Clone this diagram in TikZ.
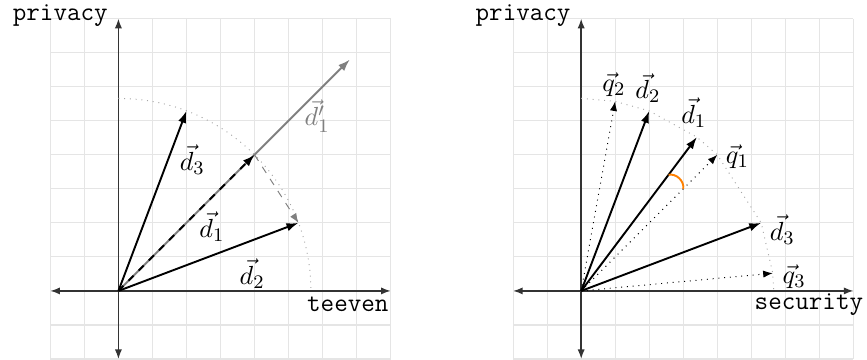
\documentclass[tikz,border=0pt]{standalone}
\usepackage{tikz}
\usetikzlibrary{arrows.meta,calc}

\begin{document}
\begin{tikzpicture}[x=0.5cm,y=0.5cm,
  font=\fontsize{11}{13}\selectfont,
  grd/.style={draw=gray!20,line width=0.5pt},
  ax/.style={{Latex[length=4pt,width=3pt]}-{Latex[length=4pt,width=3pt]},semithick,black!80},
  vec/.style={-{Latex[length=5pt,width=3.5pt]},thick},
  qvec/.style={-{Latex[length=4pt,width=3pt]},dotted},
  rim/.style={dotted,gray!70},
  axlbl/.style={inner sep=0pt,font=\ttfamily\fontsize{11}{13}\selectfont}]
\useasboundingbox (-3.48,-2.03) rectangle (22.0,8.55);
% left: documents only
\draw[grd,step=0.5cm] (-2,-2) grid (8,8);
\coordinate (o) at (0,0);
\coordinate (xl) at (-2,0); \coordinate (xr) at (8,0);
\coordinate (yb) at (0,-2); \coordinate (yt) at (0,8);
\draw[ax] (xl) -- (xr);
\draw[ax] (yb) -- (yt);
\node[axlbl,anchor=base east] (py) at (-0.3,7.95) {privacy};
\node[axlbl,anchor=base east] (tv) at (7.95,-0.6) {teeven};
\draw[rim] (0,5.657) arc (90:0:5.657);
\coordinate (d1) at (4,4);
\coordinate (d2) at (5.29,2);
\coordinate (d3) at (2,5.29);
\coordinate (d1p) at (6.8,6.8);
\draw[vec,gray] (o) -- (d1p);
\draw[vec,dashed] (o) -- (d1);
\draw[-{Latex[length=4pt,width=3pt]},gray,dashed] (d1) -- (d2);
\draw[vec] (o) -- (d2);
\draw[vec] (o) -- (d3);
\node (l1) at (2.75,1.89) {$\vec{d}_1$};
\node (l2) at (3.93,0.52) {$\vec{d}_2$};
\node (l3) at (2.17,3.85) {$\vec{d}_3$};
\node[gray] (l1p) at (5.84,5.13) {$\vec{d}_1'$};
% right: documents and queries
\begin{scope}[xshift=13.6*0.5cm]
\draw[grd,step=0.5cm] (-2,-2) grid (8,8);
\coordinate (O) at (0,0);
\coordinate (XL) at (-2,0); \coordinate (XR) at (8,0);
\coordinate (YB) at (0,-2); \coordinate (YT) at (0,8);
\draw[ax] (XL) -- (XR);
\draw[ax] (YB) -- (YT);
\node[axlbl,anchor=base east] (PY) at (-0.3,7.95) {privacy};
\node[axlbl,anchor=base east] (SC) at (8.3,-0.55) {security};
\coordinate (D1) at (3.4,4.52);
\coordinate (D2) at (2,5.29);
\coordinate (D3) at (5.29,2);
\coordinate (Q1) at (4,4);
\coordinate (Q2) at (1,5.57);
\coordinate (Q3) at (5.63,0.52);
\draw[rim] (0,5.657) -- (Q2) -- (D2) -- (D1) -- (Q1) -- (D3) -- (Q3) -- (5.657,0);
\draw[qvec] (O) -- (Q1);
\draw[qvec] (O) -- (Q2);
\draw[qvec] (O) -- (Q3);
\draw[vec] (O) -- (D1);
\draw[vec] (O) -- (D2);
\draw[vec] (O) -- (D3);
\coordinate (A1) at ($(O)!0.755!(D1)$);
\coordinate (A2) at ($(O)!0.75!(Q1)$);
\draw[orange,thick] (A1) to[bend left=55] (A2);
\node (L1) at (3.31,5.23) {$\vec{d}_1$};
\node (L2) at (1.96,5.96) {$\vec{d}_2$};
\node (L3) at (5.91,1.79) {$\vec{d}_3$};
\node (M1) at (4.59,3.95) {$\vec{q}_1$};
\node (M2) at (0.96,6.06) {$\vec{q}_2$};
\node (M3) at (6.26,0.42) {$\vec{q}_3$};
\end{scope}
\end{tikzpicture}
\end{document}
